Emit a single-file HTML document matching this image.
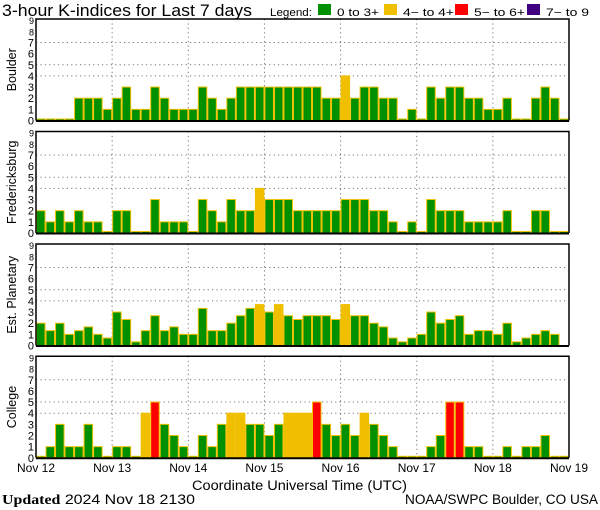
<!DOCTYPE html>
<html><head><meta charset="utf-8"><style>
body{margin:0;background:#fff;}
svg{display:block;font-family:"Liberation Sans",sans-serif;}
</style></head><body>
<svg id="chart" width="600" height="510" viewBox="0 0 600 510" xmlns="http://www.w3.org/2000/svg">
<text x="2" y="16" font-size="16.5" textLength="250" lengthAdjust="spacingAndGlyphs">3-hour K-indices for Last 7 days</text>
<g font-size="11">
<text x="270" y="16" textLength="42" lengthAdjust="spacingAndGlyphs">Legend:</text>
<rect x="318" y="4" width="13" height="11" fill="#009000"/>
<text x="337" y="16" textLength="42" lengthAdjust="spacingAndGlyphs">0 to 3+</text>
<rect x="384" y="4" width="13" height="11" fill="#f0c000"/>
<text x="403" y="16" textLength="51" lengthAdjust="spacingAndGlyphs">4− to 4+</text>
<rect x="455" y="4" width="13" height="11" fill="#ff0000"/>
<text x="474" y="16" textLength="51" lengthAdjust="spacingAndGlyphs">5− to 6+</text>
<rect x="527" y="4" width="13" height="11" fill="#400080"/>
<text x="546" y="16" textLength="43" lengthAdjust="spacingAndGlyphs">7− to 9</text>
</g>
<g id="panels"></g>
<g id="xlabels" font-size="12"></g>
<text x="192" y="490" font-size="13.5" textLength="215" lengthAdjust="spacingAndGlyphs">Coordinate Universal Time (UTC)</text>
<text x="2" y="504" font-size="14" textLength="193" lengthAdjust="spacingAndGlyphs"><tspan font-family="Liberation Serif, serif" font-weight="bold">Updated</tspan> 2024 Nov 18 2130</text>
<text x="405" y="504" font-size="13.5" textLength="193" lengthAdjust="spacingAndGlyphs">NOAA/SWPC Boulder, CO USA</text>
</svg>
<script>
const days = ["Nov 12","Nov 13","Nov 14","Nov 15","Nov 16","Nov 17","Nov 18","Nov 19"];
const yTicks = [0,1,2,3,4,5,6,7,8,9];
const stations = ["Boulder","Fredericksburg","Est. Planetary","College"];
const boulder = [0,0,0,0,2,2,2,1,2,3,1,1,3,2,1,1,1,3,2,1,2,3,3,3,3,3,3,3,3,3,2,2,4,2,3,3,2,2,0,1,0,3,2,3,3,2,2,1,1,2,0,0,2,3,2,0];
const fredericksburg = [2,1,2,1,2,1,1,0,2,2,0,0,3,1,1,1,0,3,2,1,3,2,2,4,3,3,3,2,2,2,2,2,3,3,3,2,2,1,0,1,0,3,2,2,2,1,1,1,1,2,0,0,2,2,0,0];
const planetary = [2,1.33,2,1,1.33,1.67,1,0.67,3,2.33,0.33,1.33,2.67,1.33,1.67,1,1,3.33,1.33,1.33,2,2.67,3.33,3.67,3,3.67,2.67,2.33,2.67,2.67,2.67,2.33,3.67,2.67,2.67,2,1.67,0.67,0.33,0.67,1,3,2,2.33,2.67,1,1.33,1.33,1,2,0.33,0.67,1,1.33,1,null];
const college = [0,1,3,1,1,3,1,0,1,1,0,4,5,3,2,1,0,2,1,3,4,4,3,3,2,3,4,4,4,5,3,2,3,2,4,3,2,1,0,0,0,1,2,5,5,1,1,0,0,1,0,1,1,2,0,0];
const series = [boulder,fredericksburg,planetary,college];

const NS="http://www.w3.org/2000/svg";
const X0=36, X1=569, H=101.5, UNIT=11.15;
const tops=[19,131.5,244,356.3];
const nBars=56;
function xScale(i){return X0+(X1-X0)*i/nBars;}
function dayX(d){return X0+(X1-X0)*d/7;}
function mk(tag,attrs,parent){const e=document.createElementNS(NS,tag);for(const k in attrs)e.setAttribute(k,attrs[k]);parent.appendChild(e);return e;}
function color(v){if(v>=6.6)return"#400080";if(v>=4.6)return"#ff0000";if(v>=3.6)return"#f0c000";return"#009000";}
const panels=document.getElementById('panels');
stations.forEach((name,p)=>{
  const top=tops[p], base=top+H;
  const yScale=v=>base-v*UNIT;
  const g=mk('g',{},panels);
  
  
  [4,5,7].forEach(v=>{const l=mk('line',{x1:X0,x2:X1,y1:yScale(v),y2:yScale(v),stroke:'#777','stroke-dasharray':'1.2,3.2','stroke-width':1},g);
    
    });
  for(let d=1;d<7;d++){const l=mk('line',{x1:dayX(d),x2:dayX(d),y1:top,y2:base,stroke:'#777','stroke-dasharray':'1.2,3.2','stroke-width':1},g);
    
    }
  series[p].forEach((v,i)=>{
    if(v===null)return;
    const h=Math.max(v*UNIT,1.5);
    const r=mk('rect',{x:xScale(i)+0.5,y:base-h,width:(X1-X0)/nBars-1,height:h,fill:color(v),stroke:'#f0c000','stroke-width':1},g);
    
    
  });
  const f=mk('path',{d:`M${X0} ${base} V${top} H${X1} V${base}`,fill:'none',stroke:'#000','stroke-width':1.5},g);
  
  
  const b=mk('line',{x1:X0,x2:X1,y1:base+0.5,y2:base+0.5,stroke:'#000','stroke-width':2},g);
  
  
  yTicks.forEach(v=>{const t=mk('text',{x:X0-2,y:yScale(v)+4,'font-size':v>=8?9:11,'text-anchor':'end'},g);t.textContent=v;
    
    });
  const yl=mk('text',{transform:`translate(16 ${top+H/2}) rotate(-90)`,'font-size':12.5,'text-anchor':'middle'},g);
  yl.textContent=name;
  
  
});
const xl=document.getElementById('xlabels');
days.forEach((d,i)=>{const t=mk('text',{x:dayX(i),y:472,'text-anchor':'middle'},xl);t.textContent=d;
  
  });
</script>
</body></html>
